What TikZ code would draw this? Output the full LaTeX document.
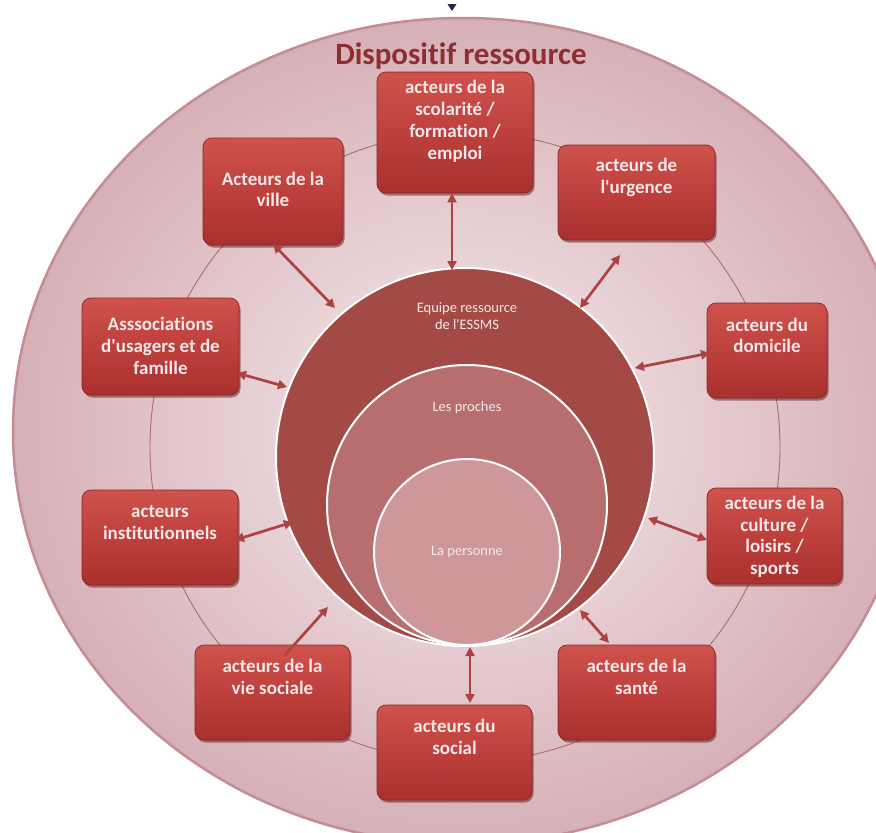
\documentclass[tikz,border=0pt]{standalone}
\usepackage{fontspec}
\setmainfont{Carlito}[Ligatures={TeXOff,NoCommon}]
\usetikzlibrary{arrows.meta,shadows}
\definecolor{boxtop}{RGB}{208,82,77}
\definecolor{boxmid}{RGB}{190,64,60}
\definecolor{boxbot}{RGB}{168,48,46}
\definecolor{boxedge}{RGB}{135,38,38}
\definecolor{txtlight}{RGB}{244,232,232}
\definecolor{titlered}{RGB}{142,46,50}
\definecolor{arrowred}{RGB}{172,66,66}
\definecolor{ringline}{RGB}{172,108,114}
\definecolor{bgin}{RGB}{246,236,238}
\definecolor{bgout}{RGB}{214,176,182}
\definecolor{rim}{RGB}{196,140,148}
\definecolor{cbig}{RGB}{163,74,71}
\definecolor{cmid}{RGB}{184,110,110}
\definecolor{cin}{RGB}{206,152,154}
\definecolor{navy}{RGB}{30,40,70}
\newcommand\acttext[2]{\raisebox{#1}[0pt][0pt]{\begin{tabular}{@{}c@{}}#2\end{tabular}}}
\begin{document}
\begin{tikzpicture}[x=1pt,y=-1pt,
  actor/.style={rectangle, rounded corners=9pt, draw=boxedge, line width=0.7pt,
     top color=boxtop, bottom color=boxbot, middle color=boxmid,
     drop shadow={shadow xshift=1.5pt, shadow yshift=-2.5pt, opacity=0.45, fill=black!70!red},
     font=\bfseries\fontsize{19}{21.7}\selectfont, text=txtlight, inner sep=0pt},
  dbl/.style={{Triangle[length=9pt,width=9pt]}-{Triangle[length=9pt,width=9pt]}, line width=2.7pt, draw=arrowred},
  sgl/.style={-{Triangle[length=9pt,width=9pt]}, line width=2.7pt, draw=arrowred},
  disc/.style={circle, draw=white, line width=2pt, inner sep=0pt},
  circlabel/.style={font=\fontsize{14.5}{17}\selectfont, text=txtlight, align=center, inner sep=0pt},
]
\useasboundingbox (0,0) rectangle (876,833);
\clip (0,0) rectangle (876,833);
\fill[white] (0,0) rectangle (876,833);
% outer disc
\shade[inner color=bgin, outer color=bgout] (463,431) ellipse [x radius=450pt, y radius=413pt];
\draw[rim, line width=2.5pt] (463,431) ellipse [x radius=450pt, y radius=413pt];
% top marker
\fill[navy] (447.5,4) -- (456.5,4) -- (452,11) -- cycle;
% ring line
\draw[ringline, line width=0.9pt] (465,447) circle [radius=315pt];
% title
\node[font=\bfseries\fontsize{31}{36}\selectfont, text=titlered, inner sep=0pt] (title) at (461,56) {Dispositif ressource};
% concentric circles
\node[disc, fill=cbig, minimum size=378pt] (big) at (465,457) {};
\node[disc, fill=cmid, minimum size=280pt] (mid) at (467,505) {};
\node[disc, fill=cin, minimum size=186pt] (inn) at (467,552) {};
\node[circlabel] (t1) at (467,316.5) {Equipe ressource\\de l'ESSMS};
\node[circlabel] (t2) at (467,408) {Les proches};
\node[circlabel] (t3) at (467,552) {La personne};
% actor boxes
\node[actor, minimum width=156pt, minimum height=121pt] (scol) at (455,132.5) {\acttext{6pt}{acteurs de la\\scolarité /\\formation /\\emploi}};
\node[actor, minimum width=140pt, minimum height=107pt] (ville) at (273,191.5) {\acttext{-4.6pt}{Acteurs de la\\ville}};
\node[actor, minimum width=157pt, minimum height=95pt] (urg) at (636.5,192.5) {\acttext{10.3pt}{acteurs de\\l'urgence}};
\node[actor, minimum width=157pt, minimum height=97pt] (assoc) at (160.5,346.5) {\acttext{-6.1pt}{Asssociations\\d'usagers et de\\famille}};
\node[actor, minimum width=120pt, minimum height=95pt] (dom) at (767,350.5) {\acttext{8.4pt}{acteurs du\\domicile}};
\node[actor, minimum width=156pt, minimum height=95pt] (inst) at (160,537.5) {\acttext{8.9pt}{acteurs\\institutionnels}};
\node[actor, minimum width=135pt, minimum height=96pt] (cult) at (774.5,536) {\acttext{-6.1pt}{acteurs de la\\culture /\\loisirs /\\sports}};
\node[actor, minimum width=155pt, minimum height=95pt] (vie) at (272.5,692.5) {\acttext{8.9pt}{acteurs de la\\vie sociale}};
\node[actor, minimum width=157pt, minimum height=95pt] (sante) at (636.5,692.5) {\acttext{8.9pt}{acteurs de la\\santé}};
\node[actor, minimum width=155pt, minimum height=95pt] (social) at (454.5,752.5) {\acttext{8.9pt}{acteurs du\\social}};
% arrow end points
\coordinate (e1) at (452,270);
\coordinate (s2) at (273,244);  \coordinate (e2) at (335,308);
\coordinate (s3) at (620,255);  \coordinate (e3) at (580,308);
\coordinate (s4) at (237,373);  \coordinate (e4) at (287,387);
\coordinate (s5) at (710,353);  \coordinate (e5) at (635,368);
\coordinate (s6) at (235,540);  \coordinate (e6) at (293,522);
\coordinate (s7) at (707,540);  \coordinate (e7) at (648,518);
\coordinate (s8) at (285,655);  \coordinate (e8) at (328,607);
\coordinate (s9) at (609,643);  \coordinate (e9) at (580,610);
\coordinate (s10) at (470,703); \coordinate (e10) at (470,647);
\draw[dbl] (scol.south -| e1) -- (e1);
\draw[dbl] (s2) -- (e2);
\draw[dbl] (s3) -- (e3);
\draw[dbl] (s4) -- (e4);
\draw[dbl] (s5) -- (e5);
\draw[dbl] (s6) -- (e6);
\draw[dbl] (s7) -- (e7);
\draw[sgl] (s8) -- (e8);
\draw[dbl] (s9) -- (e9);
\draw[dbl] (s10) -- (e10);
\end{tikzpicture}
\end{document}
